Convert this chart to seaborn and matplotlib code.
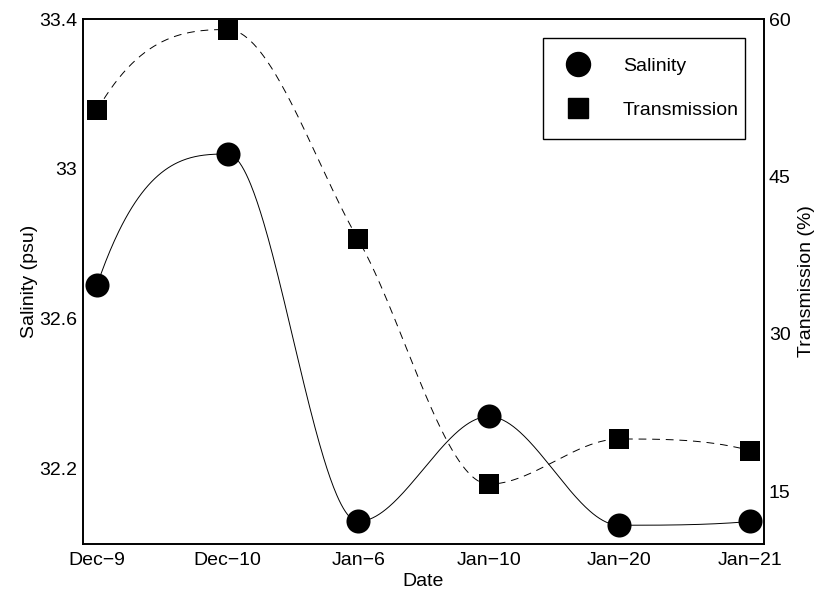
import numpy as np
import matplotlib
matplotlib.use("Agg")
import matplotlib.pyplot as plt
from matplotlib.lines import Line2D
import seaborn as sns

# Sampling dates and measurements
dates = ["Dec\u22129", "Dec\u221210", "Jan\u22126", "Jan\u221210", "Jan\u221220", "Jan\u221221"]
salinity = [32.69, 33.04, 32.06, 32.34, 32.05, 32.06]          # psu
transmission = [51.3, 59.0, 39.0, 15.7, 20.0, 18.9]            # %

sal_ticks = [32.2, 32.6, 33.0, 33.4]
sal_tick_labels = ["32.2", "32.6", "33", "33.4"]
trans_ticks = [15, 30, 45, 60]


def pchip(x, y, xs):
    """Shape-preserving piecewise cubic Hermite interpolation."""
    x = np.asarray(x, float)
    y = np.asarray(y, float)
    h = np.diff(x)
    delta = np.diff(y) / h
    n = len(x)
    d = np.zeros(n)
    for k in range(1, n - 1):
        if delta[k - 1] * delta[k] > 0:
            w1 = 2 * h[k] + h[k - 1]
            w2 = h[k] + 2 * h[k - 1]
            d[k] = (w1 + w2) / (w1 / delta[k - 1] + w2 / delta[k])

    def end_slope(h0, h1, d0, d1):
        s = ((2 * h0 + h1) * d0 - h0 * d1) / (h0 + h1)
        if np.sign(s) != np.sign(d0):
            s = 0.0
        elif np.sign(d0) != np.sign(d1) and abs(s) > abs(3 * d0):
            s = 3 * d0
        return s

    d[0] = end_slope(h[0], h[1], delta[0], delta[1])
    d[-1] = end_slope(h[-1], h[-2], delta[-1], delta[-2])

    idx = np.clip(np.searchsorted(x, xs) - 1, 0, n - 2)
    t = (xs - x[idx]) / h[idx]
    h00 = 2 * t**3 - 3 * t**2 + 1
    h10 = t**3 - 2 * t**2 + t
    h01 = -2 * t**3 + 3 * t**2
    h11 = t**3 - t**2
    return (h00 * y[idx] + h10 * h[idx] * d[idx]
            + h01 * y[idx + 1] + h11 * h[idx] * d[idx + 1])


sns.set_style("white")
plt.rcParams["font.family"] = ["Liberation Sans", "DejaVu Sans"]
plt.rcParams["font.size"] = 14
plt.rcParams["text.color"] = "black"
plt.rcParams["axes.labelcolor"] = "black"

pos = np.arange(1, len(dates) + 1, dtype=float)
xs = np.linspace(pos[0], pos[-1], 600)

fig = plt.figure(figsize=(8.17, 5.92), dpi=100)
ax1 = fig.add_axes([0.1016, 0.0811, 0.8335, 0.8868])
ax2 = ax1.twinx()

# Salinity: smooth solid curve with circle markers
sns.lineplot(x=xs, y=pchip(pos, salinity, xs), ax=ax1, color="black",
             linewidth=0.7, sort=False)
sns.scatterplot(x=pos, y=salinity, ax=ax1, marker="o", s=300,
                color="black", edgecolor="black", linewidth=0, zorder=3)

# Transmission: smooth dashed curve with square markers
sns.lineplot(x=xs, y=pchip(pos, transmission, xs), ax=ax2, color="black",
             linewidth=0.7, linestyle=(0, (8, 6)), sort=False)
sns.scatterplot(x=pos, y=transmission, ax=ax2, marker="s", s=210,
                color="black", edgecolor="black", linewidth=0, zorder=3)

ax1.set_xlim(0.893, 6.107)
ax1.set_ylim(32.0, 33.4)
ax2.set_ylim(10, 60)

ax1.set_xticks(pos)
ax1.set_xticklabels(dates)
ax1.set_yticks(sal_ticks)
ax1.set_yticklabels(sal_tick_labels)
ax2.set_yticks(trans_ticks)
ax2.set_yticklabels([str(t) for t in trans_ticks])

ax1.tick_params(axis="both", length=0, labelsize=14, colors="black")
ax1.tick_params(axis="y", pad=4.3)
ax1.tick_params(axis="x", pad=5.5)
ax2.tick_params(axis="y", length=0, labelsize=14, pad=3.6, colors="black")

ax1.set_xlabel("Date", fontsize=14, labelpad=3, color="black")
ax1.set_ylabel("Salinity (psu)", fontsize=14, labelpad=1, color="black")
ax2.set_ylabel("Transmission (%)", fontsize=14, labelpad=5, color="black")

for ax in (ax1, ax2):
    for sp in ax.spines.values():
        sp.set_visible(True)
        sp.set_color("black")
        sp.set_linewidth(1.2)
ax1.grid(False)
ax2.grid(False)

handles = [
    Line2D([], [], linestyle="none", marker="o", markersize=17.3,
           markerfacecolor="black", markeredgecolor="black"),
    Line2D([], [], linestyle="none", marker="s", markersize=14.4,
           markerfacecolor="black", markeredgecolor="black"),
]
leg = ax2.legend(handles, ["Salinity", "Transmission"], loc="upper left",
                 bbox_to_anchor=(0.6755, 0.0, 0.2966, 0.9638), mode="expand",
                 borderaxespad=0, fancybox=False, framealpha=1,
                 edgecolor="black", fontsize=14, handlelength=1.6,
                 handletextpad=1.5, borderpad=1.0, labelspacing=1.36,
                 numpoints=1)
leg.get_frame().set_linewidth(1.0)
for txt in leg.get_texts():
    txt.set_color("black")

fig.savefig("out.png", dpi=100)
